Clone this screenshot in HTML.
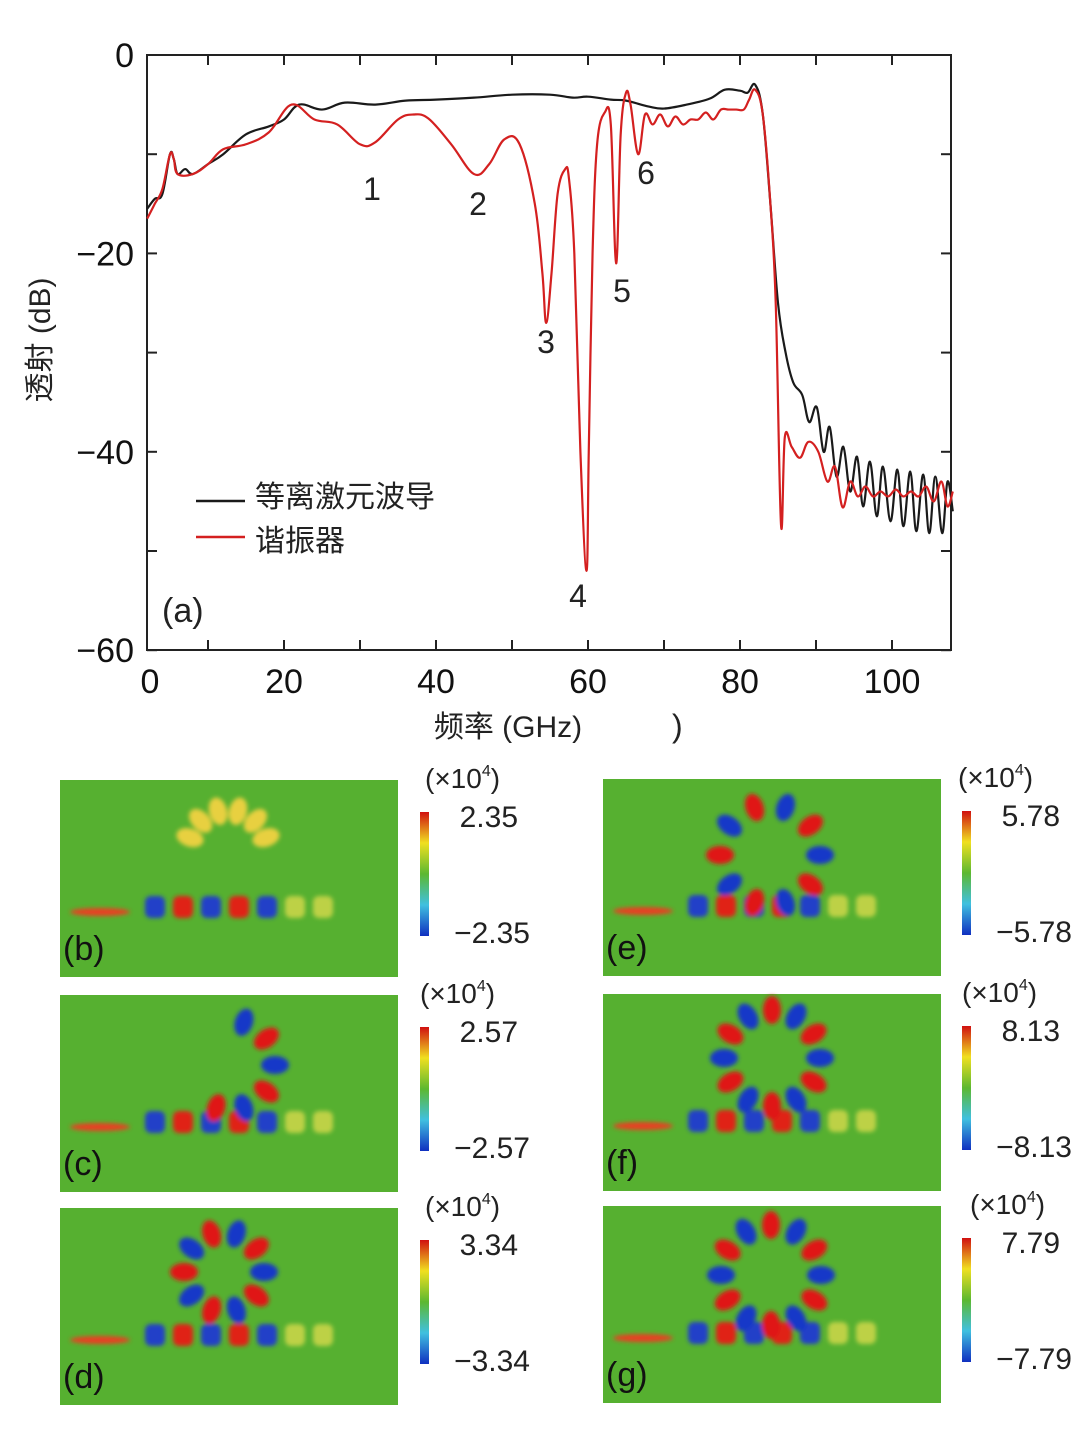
<!DOCTYPE html>
<html><head><meta charset="utf-8"><style>
body{margin:0;background:#fff;}
svg text{font-family:"Liberation Sans","Noto Sans CJK SC",sans-serif;}
</style></head><body>
<svg width="1080" height="1438" viewBox="0 0 1080 1438" xmlns="http://www.w3.org/2000/svg">
<g id="chart"></g>
<g id="maps"></g>
</svg>
<script>
const xTicks=[0,20,40,60,80,100];
const yTicks=[0,-20,-40,-60];
const blackF=[2,3,4,5,5.5,6,7,8,10,12,15,18,20,22,25,28,32,36,40,45,50,55,58,60,63,65,68,70,73,76,78,80,81,82,83,84,85,86,87,88.2,89.1,90.1,91,91.8,92.7,93.6,94.5,95.4,96.2,97.1,98,98.8,99.8,100.7,101.5,102.4,103.2,104.1,104.9,105.7,106.6,107.3,108];
const blackV=[-15.5,-14.5,-14,-10,-10.5,-12,-11.5,-12,-11,-10,-8,-7.2,-6.5,-5,-5.5,-4.8,-5,-4.6,-4.5,-4.3,-4,-4,-4.3,-4.2,-4.5,-4.6,-5.2,-5.4,-5,-4.4,-3.5,-3.6,-3.8,-3,-6,-15,-25,-30,-33,-34.3,-37,-35.5,-40,-37.5,-42.5,-39.5,-44,-40.5,-45.5,-41,-46.5,-41.5,-47,-41.8,-47.5,-42,-48,-42.3,-48.2,-42.5,-48.2,-43,-46];
const redF=[2,3,4,5,5.5,6,8,10,12,15,18,21,24,27,30,32,35,37,39,42,45,47,49,51,53,54,54.5,55.2,56,57,57.5,58.2,59,59.8,60.1,60.6,61.2,62.2,63,63.7,64.3,65,65.6,66.6,67.5,68.5,69.5,70.5,71.5,72.5,73.5,74.5,75.5,76.5,77.5,78.5,79.5,80.5,81.2,82,83,84,84.7,85.4,85.9,86.8,87.9,89,90.3,91.5,92.5,93.5,94.5,95.5,96.5,97.5,98.5,99.5,100.5,101.5,102.5,103.5,104.5,105.5,106.5,107.3,108];
const redV=[-16.5,-15,-13.5,-10,-10.5,-12,-12,-11,-9.5,-9,-7.8,-5,-6.5,-7,-9,-8.8,-6.5,-6,-6.4,-9,-12,-11,-8.5,-9,-15,-22,-27,-22,-14,-11.5,-12.5,-20,-40,-52,-40,-20,-9,-5.8,-7,-21,-8,-3.8,-5,-10,-6,-7,-6,-7.2,-6.2,-7,-6.5,-6.5,-5.8,-6.5,-5.5,-5.5,-5.5,-5.5,-4.5,-3.5,-6,-15,-25,-47.4,-38.5,-39.5,-40.6,-39,-40,-43,-41.5,-45.6,-43,-44.5,-43.5,-44.5,-44,-44.5,-43.8,-44.5,-44,-44.5,-43.5,-45,-43,-45.5,-44,-43.5];
const NS="http://www.w3.org/2000/svg";
const X=f=>132+7.6*f, Y=d=>55-9.92*d;
function mk(p,t,a){const e=document.createElementNS(NS,t);for(const k in a)e.setAttribute(k,a[k]);p.appendChild(e);return e;}
const ch=document.getElementById('chart');
const ax=mk(ch,'rect',{x:147,y:55,width:804,height:595,fill:'none',stroke:'#222','stroke-width':2});


for(let d=0;d>=-60;d-=10){mk(ch,'line',{x1:147,x2:157,y1:Y(d),y2:Y(d),stroke:'#222','stroke-width':2});mk(ch,'line',{x1:941,x2:951,y1:Y(d),y2:Y(d),stroke:'#222','stroke-width':2});}
for(let f=10;f<=100;f+=10){mk(ch,'line',{x1:X(f),x2:X(f),y1:640,y2:650,stroke:'#222','stroke-width':2});mk(ch,'line',{x1:X(f),x2:X(f),y1:55,y2:65,stroke:'#222','stroke-width':2});}
xTicks.forEach(f=>{const t=mk(ch,'text',{x:f===0?150:X(f),y:693,'font-size':34,'text-anchor':'middle',fill:'#111'});t.textContent=String(f);

});
yTicks.forEach(d=>{const t=mk(ch,'text',{x:134,y:Y(d)+12,'font-size':34,'text-anchor':'end',fill:'#111'});t.textContent=d===0?'0':'\u2212'+(-d);

});
function line(F,V,c,n){
 const P=F.map((f,i)=>[X(f),Y(V[i])]);
 let d='M'+P[0][0]+','+P[0][1];
 for(let i=0;i<P.length-1;i++){const p0=P[Math.max(0,i-1)],p1=P[i],p2=P[i+1],p3=P[Math.min(P.length-1,i+2)];
  const t=0.18;
  d+=` C${p1[0]+(p2[0]-p0[0])*t},${p1[1]+(p2[1]-p0[1])*t} ${p2[0]-(p3[0]-p1[0])*t},${p2[1]-(p3[1]-p1[1])*t} ${p2[0]},${p2[1]}`;}
 const p=mk(ch,'path',{d:d,fill:'none',stroke:c,'stroke-width':2.2,'stroke-linejoin':'round'});
 
 }
line(blackF,blackV,'#1a1a1a','waveguide-series');
line(redF,redV,'#d42020','resonator-series');
[['1',372,200],['2',478,215],['3',546,353],['4',578,607],['5',622,302],['6',646,184]].forEach(a=>{const t=mk(ch,'text',{x:a[1],y:a[2],'font-size':32,'text-anchor':'middle',fill:'#222'});t.textContent=a[0];

});
</script>
<svg style="position:absolute;left:0;top:0" width="1080" height="1438" xmlns="http://www.w3.org/2000/svg">
<line x1="196" y1="501" x2="245" y2="501" stroke="#1a1a1a" stroke-width="2.5"/>
<text x="255" y="507" font-size="30" fill="#222" font-family="Noto Sans CJK SC,sans-serif">等离激元波导</text>
<line x1="196" y1="537" x2="245" y2="537" stroke="#d42020" stroke-width="2.5"/>
<text x="255" y="551" font-size="30" fill="#222" font-family="Noto Sans CJK SC,sans-serif">谐振器</text>
<text x="162" y="622" font-size="34" fill="#222" font-family="Liberation Sans,sans-serif">(a)</text>
<text transform="translate(50,340) rotate(-90)" font-size="30" text-anchor="middle" fill="#222" font-family="Liberation Serif,Noto Serif CJK SC,serif">透射 (dB)</text>
<text x="508" y="737" font-size="30" text-anchor="middle" fill="#222" font-family="Liberation Serif,Noto Serif CJK SC,serif">频率 (GHz)</text>
<text x="672" y="737" font-size="32" fill="#222" font-family="Liberation Serif,serif">)</text>
</svg>
<script>
const panels=[
 {id:'b',x:60,y:780,cx:228,cy:850,r:40,n:12,lab:'2.35',cbx:420,tx:425,ring:'arc'},
 {id:'c',x:60,y:995,cx:230,cy:1065,r:45,n:12,lab:'2.57',cbx:420,tx:420,ring:'half'},
 {id:'d',x:60,y:1208,cx:224,cy:1272,r:40,n:12,lab:'3.34',cbx:420,tx:425,ring:'full'},
 {id:'e',x:603,y:779,cx:770,cy:855,r:50,n:12,lab:'5.78',cbx:962,tx:958,ring:'full'},
 {id:'f',x:603,y:994,cx:772,cy:1058,r:48,n:14,lab:'8.13',cbx:962,tx:962,ring:'full'},
 {id:'g',x:603,y:1206,cx:771,cy:1275,r:50,n:16,lab:'7.79',cbx:962,tx:970,ring:'full'}];
const mg=document.getElementById('maps');
const dfs=mk(mg,'defs',{});
const lg=mk(dfs,'linearGradient',{id:'cb',x1:0,y1:0,x2:0,y2:1});
[['0','#d01010'],['0.25','#f0e020'],['0.5','#5cb830'],['0.75','#40c0e0'],['1','#1030c0']].forEach(s=>mk(lg,'stop',{offset:s[0],'stop-color':s[1]}));
const bl=mk(dfs,'filter',{id:'bl'});mk(bl,'feGaussianBlur',{stdDeviation:2});
panels.forEach(p=>{
 const g=mk(mg,'g',{});
 
 
 mk(g,'rect',{x:p.x,y:p.y,width:338,height:197,fill:'#56b030'});
 const gg=mk(g,'g',{filter:'url(#bl)'});
 const wy=p.y+130;
 mk(gg,'ellipse',{cx:p.x+40,cy:wy+2,rx:30,ry:4,fill:'#e84020'});
 for(let k=0;k<7;k++){const c=k%2? '#e02018':'#2040c8';mk(gg,'rect',{x:p.x+85+k*28,y:wy-14,width:20,height:22,rx:6,fill:(k>4?'#e8e050':c),opacity:k>4?0.7:1});}
 const m=p.ring==='arc'?6:p.ring==='half'?6:(p.id==='d'||p.id==='e'?10:12);
 for(let k=0;k<m;k++){
  let a=p.ring==='arc'? Math.PI*(1.1+k*0.16): p.ring==='half'?Math.PI*(-0.4+k*0.2):2*Math.PI*k/m;
  const cx=p.cx+p.r*Math.cos(a), cy=p.cy+p.r*Math.sin(a);
  mk(gg,'ellipse',{cx:cx,cy:cy,rx:14,ry:9,fill:p.ring==='arc'?'#e8d040':(k%2?'#e01818':'#1838c8'),transform:`rotate(${a*180/Math.PI} ${cx} ${cy})`});
 }
 const t=mk(g,'text',{x:p.x+3,y:p.y+180,'font-size':34,fill:'#111'});t.textContent='('+p.id+')';
 
 
 const cb=mk(g,'rect',{x:p.cbx,y:p.y+32,width:9,height:124,fill:'url(#cb)'});
 
 
 const t1=mk(g,'text',{x:p.tx,y:p.y+8,'font-size':28,fill:'#222'});t1.innerHTML='(×10<tspan font-size="16" dy="-12">4</tspan><tspan dy="12">)</tspan>';
 
 
 const t2=mk(g,'text',{x:p.cbx+98,y:p.y+47,'font-size':30,fill:'#222','text-anchor':'end'});t2.textContent=p.lab;
 
 
 const t3=mk(g,'text',{x:p.cbx+110,y:p.y+163,'font-size':30,fill:'#222','text-anchor':'end'});t3.textContent='\u2212'+p.lab;
 
 
});
</script>
</body></html>
